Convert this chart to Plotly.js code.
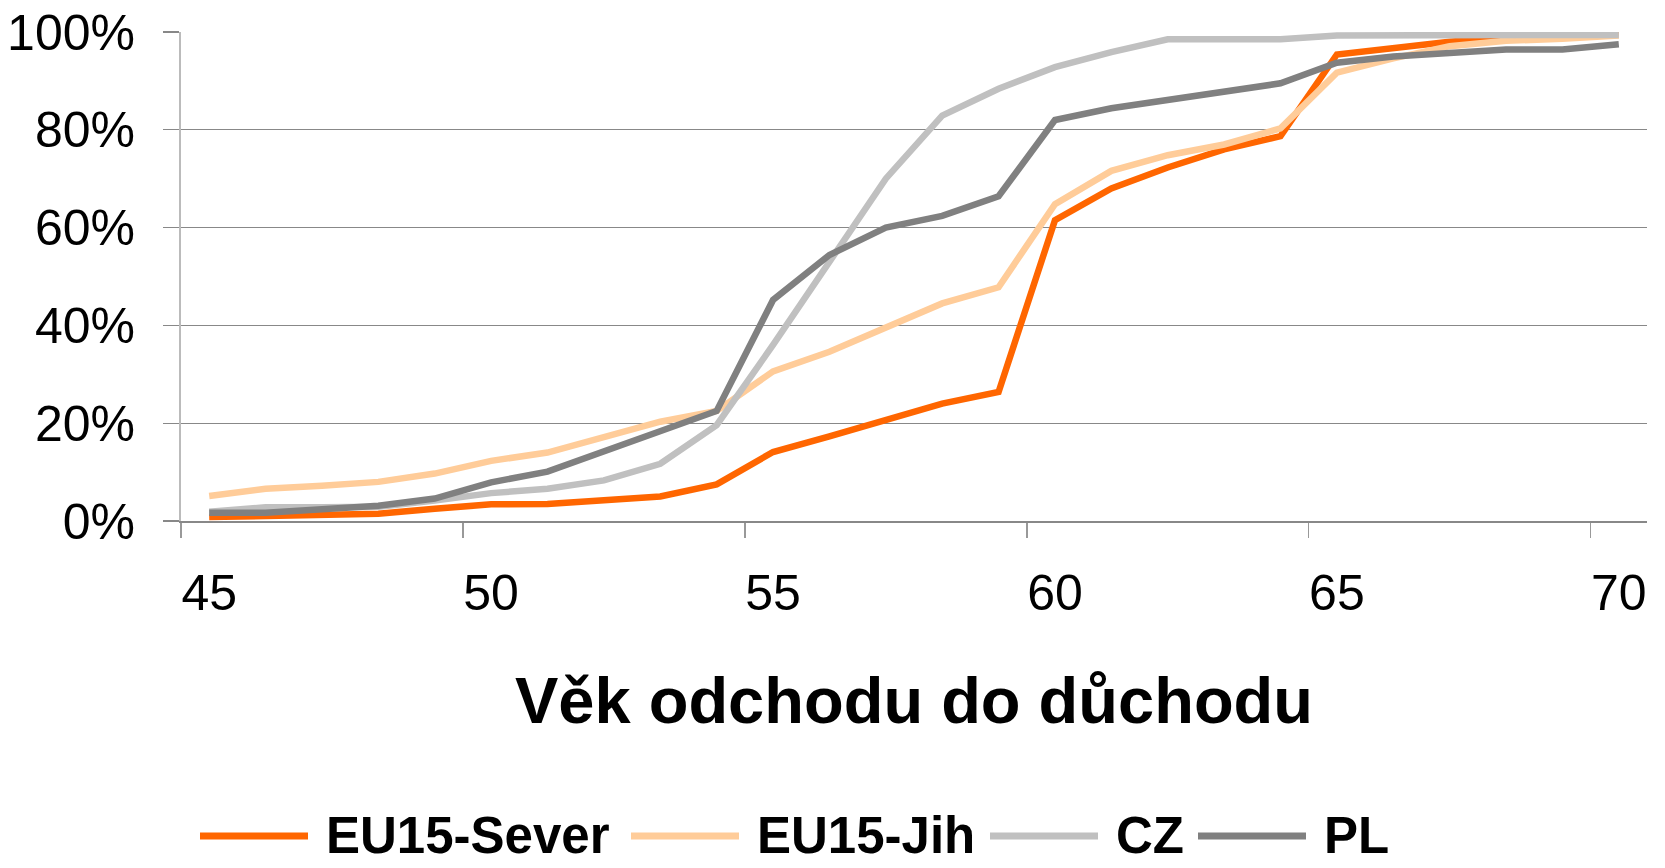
<!DOCTYPE html>
<html>
<head>
<meta charset="utf-8">
<script src="https://cdn.plot.ly/plotly-3.0.1.min.js"></script>
<style>
  html, body { margin: 0; padding: 0; background: #fff; }
  #chart { width: 1665px; height: 868px; }
</style>
</head>
<body>
<div id="chart"></div>
<script>
// age of leaving work
var ages = [45, 46, 47, 48, 49, 50, 51, 52, 53, 54, 55, 56, 57,
            58, 59, 60, 61, 62, 63, 64, 65, 66, 67, 68, 69, 70];

// cumulative share (0..1)
var euSever = [0.008, 0.010, 0.015, 0.015, 0.025, 0.034, 0.035, 0.042, 0.050, 0.075, 0.141, 0.173, 0.207,
               0.240, 0.264, 0.615, 0.680, 0.723, 0.760, 0.787, 0.954, 0.968, 0.980, 0.990, 0.993, 0.997];
var euJih   = [0.051, 0.066, 0.072, 0.080, 0.097, 0.123, 0.140, 0.170, 0.203, 0.225, 0.306, 0.346, 0.397,
               0.445, 0.478, 0.648, 0.716, 0.748, 0.770, 0.803, 0.917, 0.946, 0.971, 0.982, 0.986, 0.993];
var cz      = [0.019, 0.028, 0.028, 0.029, 0.042, 0.057, 0.066, 0.083, 0.117, 0.196, 0.360, 0.529, 0.700,
               0.829, 0.884, 0.928, 0.959, 0.985, 0.985, 0.985, 0.993, 0.994, 0.994, 0.994, 0.994, 0.994];
var pl      = [0.017, 0.017, 0.024, 0.031, 0.046, 0.079, 0.101, 0.143, 0.182, 0.225, 0.452, 0.544, 0.600,
               0.624, 0.664, 0.820, 0.844, 0.862, 0.878, 0.895, 0.937, 0.950, 0.957, 0.964, 0.964, 0.975];

var seriesNames = ['EU15-Sever', 'EU15-Jih', 'CZ', 'PL'];
var seriesColors = ['#FF6600', '#FFCC99', '#C0C0C0', '#808080'];
var seriesValues = [euSever, euJih, cz, pl];

var xLabels = [45, 50, 55, 60, 65, 70];
var xTickMarks = [44.5, 49.5, 54.5, 59.5, 64.5, 69.5];

var FONT = 'Liberation Sans, Arial, sans-serif';

// plot box in px (margins)
var M = {l: 181, r: 18, t: 32, b: 347};
var W = 1665, H = 868;
var plotW = W - M.l - M.r, plotH = H - M.t - M.b;

// legend key: left px of each sample line (sample is 108px long), row centre px
var legendLeft = [200, 631, 990, 1198];
var legendRowY = 836;
var keyLen = 108, keyGap = 16;

function px2x(px) { return (px - M.l) / plotW; }
function py2y(py) { return (H - M.b - py) / plotH; }

var data = [];
var shapes = [];
var annotations = [];
for (var i = 0; i < seriesNames.length; i++) {
  data.push({
    x: ages,
    y: seriesValues[i],
    name: seriesNames[i],
    type: 'scatter',
    mode: 'lines',
    line: {color: seriesColors[i], width: 6.5},
    hoverinfo: 'x+y+name'
  });
  // hand-made legend so the key lines are as long as in the original
  shapes.push({
    type: 'line', xref: 'paper', yref: 'paper',
    x0: px2x(legendLeft[i]), x1: px2x(legendLeft[i] + keyLen),
    y0: py2y(legendRowY), y1: py2y(legendRowY),
    line: {color: seriesColors[i], width: 7}
  });
  annotations.push({
    xref: 'paper', yref: 'paper',
    x: px2x(legendLeft[i] + keyLen + keyGap), y: py2y(legendRowY),
    xanchor: 'left', yanchor: 'middle',
    text: seriesNames[i],
    showarrow: false,
    font: {family: FONT, size: 51, weight: 'bold', color: '#000'}
  });
}

var layout = {
  width: W,
  height: H,
  margin: {l: M.l, r: M.r, t: M.t, b: M.b, autoexpand: false},
  paper_bgcolor: '#ffffff',
  plot_bgcolor: '#ffffff',
  showlegend: false,
  font: {family: FONT, color: '#000'},
  xaxis: {
    range: [44.5, 70.5],
    tickmode: 'array',
    tickvals: xLabels,
    ticks: '',
    showgrid: false,
    zeroline: false,
    showline: true,
    linecolor: '#888888',
    linewidth: 1.5,
    automargin: false,
    ticklabelstandoff: 27,
    tickfont: {family: FONT, size: 50, color: '#000'},
    minor: {
      tickmode: 'array',
      tickvals: xTickMarks,
      ticks: 'outside',
      ticklen: 15,
      tickwidth: 1.5,
      tickcolor: '#999999',
      showgrid: false
    },
    title: {
      text: 'Věk odchodu do důchodu',
      standoff: 58,
      font: {family: FONT, size: 65, weight: 'bold', color: '#000'}
    }
  },
  yaxis: {
    range: [0, 1],
    tickmode: 'linear',
    tick0: 0,
    dtick: 0.2,
    tickformat: '.0%',
    ticks: 'outside',
    ticklen: 16,
    tickwidth: 1.3,
    tickcolor: '#888888',
    showgrid: true,
    gridcolor: '#888888',
    gridwidth: 1.3,
    zeroline: false,
    showline: true,
    linecolor: '#BBBBBB',
    linewidth: 2,
    automargin: false,
    ticklabelstandoff: 18,
    tickfont: {family: FONT, size: 50, color: '#000'}
  },
  shapes: shapes,
  annotations: annotations
};

Plotly.newPlot('chart', data, layout, {displaylogo: false, displayModeBar: false, staticPlot: true});
</script>
</body>
</html>
